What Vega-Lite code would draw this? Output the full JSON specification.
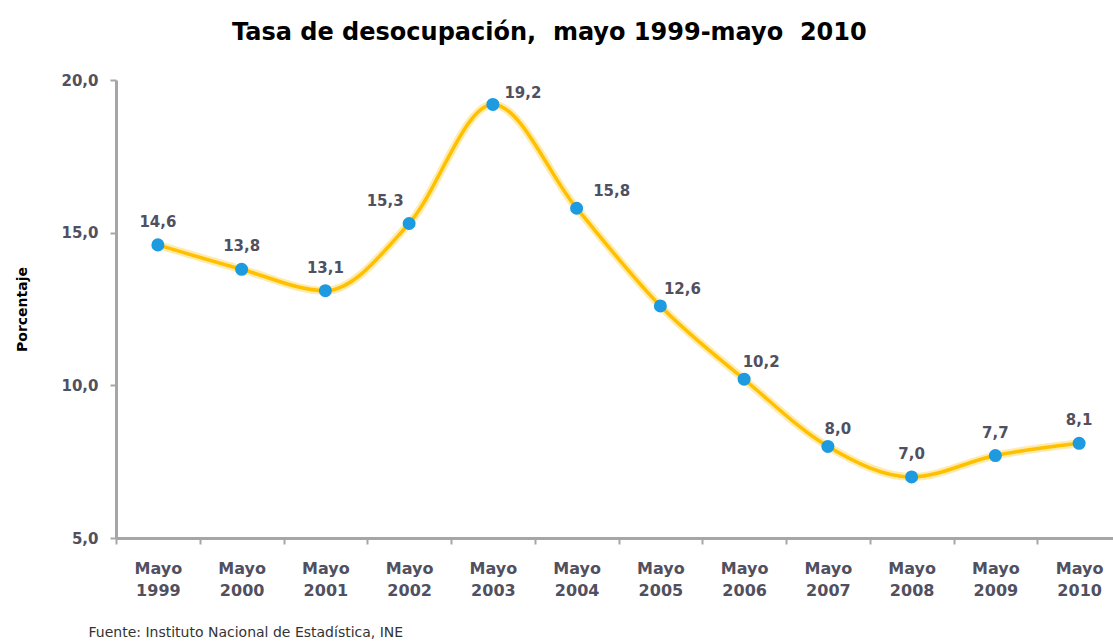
{
  "$schema": "https://vega.github.io/schema/vega-lite/v6.json",
  "width": 1005,
  "height": 458,
  "autosize": {"type": "none"},
  "padding": {"left": 116, "top": 80, "right": 0, "bottom": 104},
  "background": "white",
  "config": {"view": {"stroke": null}},
  "title": {
    "text": "Tasa de desocupación,\u00a0\u00a0mayo 1999-mayo\u00a0\u00a02010",
    "anchor": "start",
    "frame": "group",
    "dx": 116,
    "offset": 28,
    "font": "DejaVu Sans",
    "fontSize": 24,
    "fontWeight": "bold",
    "color": "#000000"
  },
  "data": {
    "values": [
      {"year": "1999", "tasa": 14.6},
      {"year": "2000", "tasa": 13.8},
      {"year": "2001", "tasa": 13.1},
      {"year": "2002", "tasa": 15.3},
      {"year": "2003", "tasa": 19.2},
      {"year": "2004", "tasa": 15.8},
      {"year": "2005", "tasa": 12.6},
      {"year": "2006", "tasa": 10.2},
      {"year": "2007", "tasa": 8.0},
      {"year": "2008", "tasa": 7.0},
      {"year": "2009", "tasa": 7.7},
      {"year": "2010", "tasa": 8.1}
    ]
  },
  "encoding": {
    "x": {
      "field": "year",
      "type": "ordinal",
      "sort": null,
      "scale": {"paddingInner": 0, "paddingOuter": 0},
      "axis": {
        "labelAngle": 0,
        "labelExpr": "datum.label ? ['Mayo', datum.label] : ''",
        "labelFont": "DejaVu Sans",
        "labelFontSize": 16,
        "labelFontWeight": "bold",
        "labelColor": "#505060",
        "labelLineHeight": 22,
        "labelPadding": 16,
        "tickBand": "extent",
        "tickColor": "#A6A6A6",
        "tickWidth": 2,
        "tickSize": 6,
        "domainColor": "#A6A6A6",
        "domainWidth": 3,
        "grid": false,
        "title": "Fuente: Instituto Nacional de Estadística, INE",
        "titleFont": "DejaVu Sans",
        "titleFontSize": 14,
        "titleFontWeight": "normal",
        "titleColor": "#333333",
        "titleAnchor": "start",
        "titleAlign": "left",
        "titleBaseline": "middle",
        "titleX": -28,
        "titleY": 94
      }
    },
    "y": {
      "field": "tasa",
      "type": "quantitative",
      "scale": {"domain": [5, 20]},
      "axis": {
        "values": [5, 10, 15, 20],
        "labelExpr": "replace(format(datum.value, '.1f'), '.', ',')",
        "labelFont": "DejaVu Sans",
        "labelFontSize": 15,
        "labelFontWeight": "bold",
        "labelColor": "#505060",
        "labelPadding": 12,
        "tickColor": "#A6A6A6",
        "tickWidth": 2,
        "tickSize": 6,
        "domainColor": "#A6A6A6",
        "domainWidth": 3,
        "grid": false,
        "title": "Porcentaje",
        "titleFont": "DejaVu Sans",
        "titleFontSize": 14,
        "titleFontWeight": "bold",
        "titleColor": "#000000",
        "titlePadding": 31
      }
    }
  },
  "layer": [
    {
      "mark": {"type": "line", "interpolate": "monotone", "color": "#FFE38A", "strokeWidth": 8, "opacity": 0.7}
    },
    {
      "mark": {"type": "line", "interpolate": "monotone", "color": "#FFC000", "strokeWidth": 3.5}
    },
    {
      "mark": {"type": "point", "filled": true, "shape": "circle", "size": 170, "color": "#1E9BE0", "opacity": 1}
    },
    {
      "mark": {
        "type": "text",
        "font": "DejaVu Sans",
        "fontSize": 15,
        "fontWeight": "bold",
        "color": "#505060",
        "baseline": "middle",
        "text": {"expr": "replace(format(datum.tasa, '.1f'), '.', ',')"},
        "dx": {"expr": "datum.year == '2003' ? 30 : datum.year == '2004' ? 35 : datum.year == '2005' ? 22 : datum.year == '2006' ? 17 : datum.year == '2002' ? -24 : datum.year == '2007' ? 10 : 0"},
        "dy": {"expr": "datum.year == '2003' ? -11 : (datum.year == '2004' || datum.year == '2005' || datum.year == '2006' || datum.year == '2007') ? -17 : -23"}
      }
    }
  ]
}
